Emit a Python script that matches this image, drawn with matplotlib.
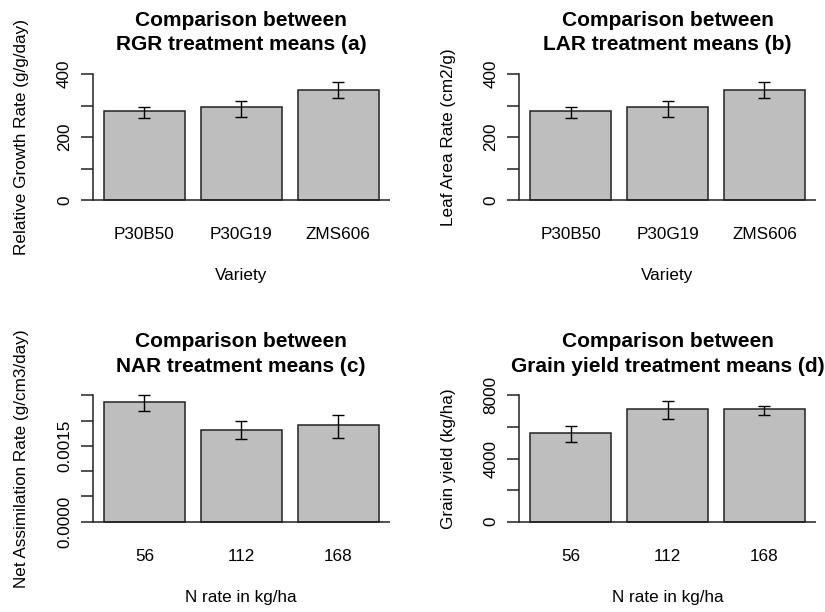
import numpy as np
import matplotlib
matplotlib.use('Agg')
import matplotlib.pyplot as plt

plt.rcParams['font.family'] = ['Liberation Sans', 'DejaVu Sans']

W, H = 825, 612

# ------------------------------------------------------------------ data
variety = ['P30B50', 'P30G19', 'ZMS606']
n_rate = ['56', '112', '168']

rgr_mean = [282.5, 294.3, 350.2]
rgr_lo = [261.3, 264.4, 323.8]
rgr_hi = [295.2, 313.3, 373.7]

lar_mean = [282.5, 294.3, 350.2]
lar_lo = [261.3, 264.4, 323.8]
lar_hi = [295.2, 313.3, 373.7]

nar_mean = [0.002373, 0.001820, 0.001919]
nar_lo = [0.002184, 0.001636, 0.001661]
nar_hi = [0.002500, 0.001986, 0.002110]

gy_mean = [5633, 7152, 7152]
gy_lo = [5044, 6481, 6734]
gy_hi = [6076, 7620, 7342]

rgr_ticks = [0, 100, 200, 300, 400]
rgr_labels = ['0', '', '200', '', '400']
nar_ticks = [0, 0.0005, 0.0010, 0.0015, 0.0020, 0.0025]
nar_labels = ['0.0000', '', '', '0.0015', '', '']
gy_ticks = [0, 2000, 4000, 6000, 8000]
gy_labels = ['0', '', '4000', '', '8000']


def px_text(x, y, s, **kw):
    fig.text(x / W, 1 - y / H, s, **kw)


def panel(left, top_tick_y, zero_y, names, mean, lo, hi, ticks, tlabels,
          title, ylab, xlab):
    # R barplot geometry: width 1, space 0.2, 4% axis extension
    top_val = ticks[-1]
    ppu = (zero_y - top_tick_y) / top_val
    ext = 0.04 * top_val
    ax_top = top_tick_y - ext * ppu
    ax_bot = zero_y + ext * ppu
    width_px = 296.5
    ax = fig.add_axes([left / W, 1 - ax_bot / H, width_px / W, (ax_bot - ax_top) / H])

    x = 0.7 + 1.2 * np.arange(len(mean))
    ax.bar(x, mean, width=1.0, color='#bebebe', edgecolor='#222222', linewidth=1.1, zorder=2)
    mean = np.array(mean)
    yerr = [mean - np.array(lo), np.array(hi) - mean]
    ax.errorbar(x, mean, yerr=yerr, fmt='none', ecolor='black', elinewidth=1.0,
                capsize=4.6, capthick=1.0, zorder=3)
    ax.axhline(0, color='#222222', linewidth=1.1, zorder=4)

    ax.set_xlim(0.064, 3.736)
    ax.set_ylim(-ext, top_val + ext)
    for s in ['top', 'right', 'bottom']:
        ax.spines[s].set_visible(False)
    ax.spines['left'].set_bounds(0, top_val)
    ax.spines['left'].set_color('#222222')
    ax.spines['left'].set_linewidth(1.1)
    ax.set_yticks(ticks)
    ax.set_yticklabels(tlabels, rotation=90, va='center', fontsize=12.3)
    ax.tick_params(axis='y', length=8.6, width=1.1, color='#222222', pad=6.5)
    ax.set_xticks(x)
    ax.set_xticklabels(names, fontsize=12.3)
    ax.tick_params(axis='x', length=0, pad=16)
    ax.patch.set_visible(False)

    cx = left + width_px / 2
    px_text(cx, zero_y - 180, title[0], ha='center', va='center', fontsize=15.0, fontweight='bold')
    px_text(cx, zero_y - 155, title[1], ha='center', va='center', fontsize=15.0, fontweight='bold')
    px_text(cx, zero_y + 76, xlab, ha='center', va='center', fontsize=12.3)
    px_text(left - 71, (ax_top + ax_bot) / 2, ylab, ha='center', va='center',
            rotation=90, fontsize=12.3)
    return ax


fig = plt.figure(figsize=(W / 100, H / 100), dpi=100)

panel(93, 74, 200, variety, rgr_mean, rgr_lo, rgr_hi, rgr_ticks, rgr_labels,
      ['Comparison between', 'RGR treatment means (a)'],
      'Relative Growth Rate (g/g/day)', 'Variety')
panel(519.3, 74, 200, variety, lar_mean, lar_lo, lar_hi, rgr_ticks, rgr_labels,
      ['Comparison between', 'LAR treatment means (b)'],
      'Leaf Area Rate (cm2/g)', 'Variety')
panel(93, 395.3, 521.7, n_rate, nar_mean, nar_lo, nar_hi, nar_ticks, nar_labels,
      ['Comparison between', 'NAR treatment means (c)'],
      'Net Assimilation Rate (g/cm3/day)', 'N rate in kg/ha')
panel(519.3, 395.3, 521.7, n_rate, gy_mean, gy_lo, gy_hi, gy_ticks, gy_labels,
      ['Comparison between', 'Grain yield treatment means (d)'],
      'Grain yield (kg/ha)', 'N rate in kg/ha')

fig.savefig('out.png', dpi=100)
